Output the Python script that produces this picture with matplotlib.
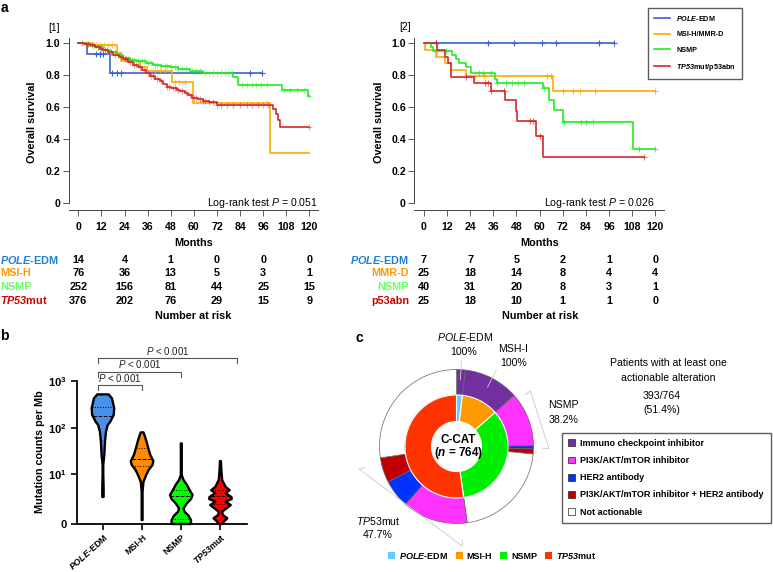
import numpy as np
import matplotlib
matplotlib.use('Agg')
import matplotlib.pyplot as plt
from matplotlib.lines import Line2D
from matplotlib.patches import Patch
from matplotlib.transforms import blended_transform_factory

plt.rcParams['font.family'] = ['Liberation Sans', 'DejaVu Sans']
plt.rcParams['mathtext.fontset'] = 'custom'
plt.rcParams['mathtext.rm'] = 'Liberation Sans'
plt.rcParams['mathtext.it'] = 'Liberation Sans:italic'
plt.rcParams['mathtext.bf'] = 'Liberation Sans:bold'
plt.rcParams['mathtext.bfit'] = 'Liberation Sans:bold:italic'

# ---------------- data: panel a (Kaplan-Meier) ----------------
month_ticks = [0, 12, 24, 36, 48, 60, 72, 84, 96, 108, 120]
risk_months = [0, 24, 48, 72, 96, 120]
surv_ticks = [0, 0.2, 0.4, 0.6, 0.8, 1.0]
surv_labels = ['0', '0.2', '0.4', '0.6', '0.8', '1.0']

# cohort [1]
c1_pole_t = [0, 4.7, 16.5]
c1_pole_s = [1.0, 0.93, 0.815]
c1_pole_end = 95.2
c1_pole_cens = [9.4, 11.1, 12.9, 17.7, 20.3, 22, 89, 95.2]

c1_msi_t = [0, 7.8, 19.9, 22, 32, 35.5, 48.5, 59.7, 99.6]
c1_msi_s = [1.0, 0.987, 0.94, 0.887, 0.85, 0.825, 0.756, 0.627, 0.314]
c1_msi_end = 120
c1_msi_cens = [9, 11, 13.5, 15.5, 17.5, 40, 42.5, 45, 50, 52.5, 55.5, 98]

c1_nsmp_t = [0, 3, 6, 9.6, 13, 16.5, 20, 23.4, 27, 30.3, 35, 39, 43, 47.6, 52, 58, 64.9, 80.5, 83, 105.7, 119.5]
c1_nsmp_s = [1.0, 0.995, 0.985, 0.977, 0.96, 0.945, 0.925, 0.908, 0.895, 0.887, 0.875, 0.866, 0.858, 0.85,
             0.84, 0.825, 0.815, 0.787, 0.742, 0.71, 0.668]
c1_nsmp_end = 120
c1_nsmp_cens = [5, 8, 10, 12, 14, 15, 17, 19, 21, 22, 24, 26, 28, 29, 31, 33, 34, 36, 38, 40, 41, 43, 45, 46,
                48, 50, 52, 54, 56, 59, 61, 63, 66, 68, 70, 72, 74, 76, 78, 80, 85, 87.5, 90, 92.5, 95, 98,
                107, 110, 113.5, 117, 120]

c1_tp53_t = [0, 3, 6.1, 8.7, 11, 13, 15.5, 18.2, 21, 23.4, 26, 28.6, 31, 32.9, 35, 37.2, 40, 42.4, 44, 45.9,
             48, 51.1, 53, 55.4, 57, 58.9, 62, 64.9, 68, 71.9, 101, 102.5, 103.5, 104.8]
c1_tp53_s = [1.0, 0.997, 0.99, 0.977, 0.965, 0.956, 0.943, 0.929, 0.915, 0.904, 0.885, 0.866, 0.85, 0.835,
             0.815, 0.794, 0.778, 0.762, 0.745, 0.725, 0.718, 0.71, 0.70, 0.69, 0.675, 0.658, 0.65, 0.642,
             0.63, 0.617, 0.59, 0.555, 0.52, 0.478]
c1_tp53_end = 120
c1_tp53_cens = [2, 4, 5, 7, 10, 12, 14, 17, 19, 22, 24, 25, 27, 29, 30, 32, 34, 36, 38, 39, 41, 43, 46, 47,
                49, 50, 52, 54, 56, 58, 60, 61, 63, 65, 66, 68, 70, 72, 74, 77, 80.5, 84, 87.5, 90, 93.5,
                96, 98.7, 120]

# cohort [2]
c2_pole_t = [0]
c2_pole_s = [1.0]
c2_pole_end = 98.7
c2_pole_cens = [6.1, 33, 46.8, 61.1, 68.3, 91, 98.7]

c2_mmr_t = [0, 0.7, 6, 10.7, 14.2, 22, 66.8]
c2_mmr_s = [1.0, 0.958, 0.917, 0.875, 0.834, 0.793, 0.704]
c2_mmr_end = 120
c2_mmr_cens = [26.4, 31, 64, 66, 72.3, 77.5, 81, 88.8, 120]

c2_nsmp_t = [0, 3.8, 4.5, 14.8, 16.8, 18.2, 22, 24.3, 36.8, 37.7, 61.6, 65, 67.5, 72, 108.4]
c2_nsmp_s = [1.0, 0.975, 0.95, 0.925, 0.9, 0.875, 0.85, 0.813, 0.776, 0.751, 0.723, 0.643, 0.58, 0.507, 0.337]
c2_nsmp_end = 120
c2_nsmp_cens = [6.8, 11.5, 28.5, 30.5, 34.7, 38, 42.5, 45.6, 48.6, 52, 62.4, 72.8, 81.5, 84, 87.5, 111.6, 120]

c2_p53_t = [0, 6.8, 10.7, 12.5, 14.2, 26, 35, 42, 47.7, 48.5, 58, 61.9]
c2_p53_s = [1.0, 0.958, 0.917, 0.875, 0.792, 0.75, 0.7, 0.643, 0.577, 0.517, 0.422, 0.287]
c2_p53_end = 113.9
c2_p53_cens = [6, 21.7, 31.6, 33, 35, 41.5, 55, 56.4, 60.2, 113.9]

risk1_labels = [r'$\mathbfit{POLE}$-EDM', 'MSI-H', 'NSMP', r'$\mathbfit{TP53}$mut']
risk1 = [[14, 4, 1, 0, 0, 0],
         [76, 36, 13, 5, 3, 1],
         [252, 156, 81, 44, 25, 15],
         [376, 202, 76, 29, 15, 9]]
risk2_labels = [r'$\mathbfit{POLE}$-EDM', 'MMR-D', 'NSMP', 'p53abn']
risk2 = [[7, 7, 5, 2, 1, 0],
         [25, 18, 14, 8, 4, 4],
         [40, 31, 20, 8, 3, 1],
         [25, 18, 10, 1, 1, 0]]
km_legend = [r'$\mathbfit{POLE}$-EDM', 'MSI-H/MMR-D', 'NSMP', r'$\mathbfit{TP53}$mut/p53abn']

# ---------------- data: panel b (violins) ----------------
violin_groups = [r'$\mathbfit{POLE}$-EDM', 'MSI-H', 'NSMP', r'$\mathbfit{TP53}$mut']
pole_levels = [523, 431, 266, 192, 139, 118, 85, 52, 27, 16.3, 9.6, 4.6, 2.7]
pole_dens = [0.50, 0.80, 1.0, 0.95, 0.65, 0.42, 0.27, 0.18, 0.12, 0.03, 0.03, 0.06, 0.06]
pole_quart = [57, 186, 287]
msi_levels = [82.6, 72.4, 52, 37.6, 27, 19.9, 16.3, 12.6, 9.6, 6.7, 3.75, 0.21]
msi_dens = [0.12, 0.21, 0.40, 0.55, 0.73, 1.0, 0.92, 0.58, 0.36, 0.12, 0.04, 0.04]
msi_quart = [15.7, 21.7, 37.6]
nsmp_levels = [48.2, 9.6, 7.4, 5.6, 4.2, 3.06, 2.34, 1.72, 1.13, 0.81, 0.49, 0.21, 0.0]
nsmp_dens = [0.04, 0.04, 0.20, 0.50, 0.73, 1.0, 0.86, 0.50, 0.20, 0.29, 0.65, 0.86, 0.86]
nsmp_quart = [0.27, 2.86, 4.2]
tp53_levels = [19.9, 11.5, 7.4, 5.05, 4.1, 3.47, 2.68, 2.34, 1.94, 1.5, 1.2, 0.81, 0.545, 0.32, 0.12, 0.0]
tp53_dens = [0.04, 0.09, 0.15, 0.45, 0.82, 0.45, 0.97, 1.0, 0.45, 0.91, 0.61, 0.15, 0.21, 0.61, 0.30, 0.18]
tp53_quart = [1.59, 2.92, 4.2]
violin_colors = ['#4a90e8', '#ff8a00', '#00ff00', '#ff0000']
# pairwise comparisons: (group a, group b, label)
comparisons = [(0, 1, r'$\mathit{P}$ < 0.001'), (0, 2, r'$\mathit{P}$ < 0.001'), (0, 3, r'$\mathit{P}$ < 0.001')]
bracket_levels = [820, 1560, 3020]

# ---------------- data: panel c (donut) ----------------
subtype_labels = [r'$\mathbfit{POLE}$-EDM', 'MSI-H', 'NSMP', r'$\mathbfit{TP53}$mut']
subtype_counts = [14, 89, 262, 399]
subtype_colors = ['#66ccff', '#ff9900', '#00ee00', '#ff3300']
therapy_labels = ['Immuno checkpoint inhibitor', 'PI3K/AKT/mTOR inhibitor', 'HER2 antibody',
                  'PI3K/AKT/mTOR inhibitor + HER2 antibody', 'Not actionable']
therapy_colors = ['#7030a0', '#ff33ff', '#0033ff', '#c00000', '#ffffff']
pole_therapy = [14, 0, 0, 0, 0]
msi_therapy = [89, 0, 0, 0, 0]
nsmp_therapy = [0, 87, 5, 8, 162]
tp53_therapy = [0, 105, 45, 40, 209]

W, H = 773, 572
fig = plt.figure(figsize=(W / 100, H / 100), dpi=100)


def px_axes(x0, y0, x1, y1):
    return fig.add_axes([x0 / W, 1 - y1 / H, (x1 - x0) / W, (y1 - y0) / H])


def ftext(x, y, s, **kw):
    return fig.text(x / W, 1 - y / H, s, **kw)


km_colors = ['#3a62d6', '#ffaa00', '#22ee22', '#d42a2a']
risk_colors = ['#1f7fd6', '#ff9900', '#66ff66', '#cc0000']


def draw_km(ax, t, s, end, cens, color, calpha):
    ax.step(list(t) + [end], list(s) + [s[-1]], where='post', color=color, lw=1.2)
    c = np.array(cens)
    idx = np.searchsorted(np.array(t), c, side='right') - 1
    ax.plot(c, np.array(s)[idx], ls='none', marker='+', ms=5, mew=0.8, color=color, alpha=calpha)


def setup_km(ax):
    ax.set_xlim(-5, 124.5)
    ax.set_ylim(-0.042, 1.035)
    for sp in ['top', 'right']:
        ax.spines[sp].set_visible(False)
    for sp in ['left', 'bottom']:
        ax.spines[sp].set_color('#444444')
        ax.spines[sp].set_linewidth(0.7)
    ax.spines['left'].set_bounds(0, 1.035)
    ax.set_xticks(month_ticks)
    ax.set_yticks(surv_ticks)
    ax.set_yticklabels(surv_labels)
    ax.tick_params(axis='both', length=4, width=0.6, color='#444444', labelsize=7.6)
    ax.tick_params(axis='x', pad=5)
    ax.tick_params(axis='y', pad=2)
    for lab in ax.get_xticklabels() + ax.get_yticklabels():
        lab.set_fontweight('bold')


def risk_table(ax, labels, rows, label_x, ha):
    tr = blended_transform_factory(ax.transData, fig.transFigure)
    for i, (lab, row) in enumerate(zip(labels, rows)):
        ypx = [260, 273.5, 287, 300.5][i]
        ftext(label_x, ypx, lab, color=risk_colors[i], fontsize=7.8, fontweight='bold', ha=ha, va='center')
        for m, n in zip(risk_months, row):
            ax.text(m, 1 - ypx / H, str(n), transform=tr, fontsize=7.8, fontweight='bold', ha='center', va='center')


# ---- panel a, left
ax1 = px_axes(68.7, 37.7, 318, 210)
setup_km(ax1)
draw_km(ax1, c1_pole_t, c1_pole_s, c1_pole_end, c1_pole_cens, km_colors[0], 1)
draw_km(ax1, c1_msi_t, c1_msi_s, c1_msi_end, c1_msi_cens, km_colors[1], 0.6)
draw_km(ax1, c1_nsmp_t, c1_nsmp_s, c1_nsmp_end, c1_nsmp_cens, km_colors[2], 0.5)
draw_km(ax1, c1_tp53_t, c1_tp53_s, c1_tp53_end, c1_tp53_cens, km_colors[3], 0.45)
ax1.text(124.5, 0.0, r'Log-rank test $\mathit{P}$ = 0.051', fontsize=7.6, ha='right', va='center')
risk_table(ax1, risk1_labels, risk1, 0, 'left')

# ---- panel a, right
ax2 = px_axes(414.3, 37.7, 664, 210)
setup_km(ax2)
draw_km(ax2, c2_pole_t, c2_pole_s, c2_pole_end, c2_pole_cens, km_colors[0], 1)
draw_km(ax2, c2_mmr_t, c2_mmr_s, c2_mmr_end, c2_mmr_cens, km_colors[1], 0.8)
draw_km(ax2, c2_nsmp_t, c2_nsmp_s, c2_nsmp_end, c2_nsmp_cens, km_colors[2], 0.7)
draw_km(ax2, c2_p53_t, c2_p53_s, c2_p53_end, c2_p53_cens, km_colors[3], 0.7)
ax2.text(120, 0.0, r'Log-rank test $\mathit{P}$ = 0.026', fontsize=7.6, ha='right', va='center')
risk_table(ax2, risk2_labels, risk2, 409, 'right')

for xc, lab in [(31.7, 'Overall survival'), (379, 'Overall survival')]:
    ftext(xc, 122, lab, rotation=90, fontsize=7.8, fontweight='bold', ha='center', va='center')
ftext(193.5, 243, 'Months', fontsize=7.8, fontweight='bold', ha='center', va='center')
ftext(540, 243, 'Months', fontsize=7.8, fontweight='bold', ha='center', va='center')
ftext(193.5, 316, 'Number at risk', fontsize=7.8, fontweight='bold', ha='center', va='center')
ftext(540, 316, 'Number at risk', fontsize=7.8, fontweight='bold', ha='center', va='center')
ftext(54, 28, '[1]', fontsize=7.4, ha='center', va='center')
ftext(405, 27, '[2]', fontsize=7.4, ha='center', va='center')

km_handles = [Line2D([], [], color=c, lw=1.2) for c in km_colors]
fig.legend(km_handles, km_legend, loc='upper left', bbox_to_anchor=(648 / W, 1 - 8 / H),
           prop={'size': 5.2, 'weight': 'bold'}, frameon=True, fancybox=False, edgecolor='#333333',
           handlelength=2.3, labelspacing=1.15, borderpad=0.8, handletextpad=0.8, borderaxespad=0)

# ---- panel b
def fwd(v):
    return np.log10(np.maximum(v, 0) + 1)


def inv(u):
    return 10 ** np.asarray(u) - 1


axb = px_axes(76.7, 381, 246.7, 524)
axb.set_yscale('function', functions=(fwd, inv))
axb.set_xlim(-0.67, 3.67)
axb.set_ylim(0, 1000)
half_w = 0.288
violins = [(pole_levels, pole_dens, pole_quart), (msi_levels, msi_dens, msi_quart),
           (nsmp_levels, nsmp_dens, nsmp_quart), (tp53_levels, tp53_dens, tp53_quart)]
for pos, ((lv, dn, qt), col) in enumerate(zip(violins, violin_colors)):
    lv = np.array(lv, dtype=float)
    d = np.array(dn) * half_w
    xs = np.concatenate([pos - d, (pos + d)[::-1]])
    ys = np.concatenate([lv, lv[::-1]])
    axb.fill(xs, ys, facecolor=col, edgecolor='black', lw=1.7, joinstyle='round', zorder=3, clip_on=False)
    u = fwd(lv)
    for k, q in enumerate(qt):
        w = np.interp(fwd(q), u[::-1], d[::-1])
        axb.plot([pos - w, pos + w], [q, q], color='black', lw=0.7, ls='--' if k == 1 else ':', zorder=4)

for (a, b, lab), lvl in zip(comparisons, bracket_levels):
    x0, x1 = a - 0.13, b + (0.0 if b < 3 else 0.42)
    drop = inv(fwd(lvl) - 0.1)
    axb.plot([x0, x0, x1, x1], [drop, lvl, lvl, drop], color='#555555', lw=0.8, clip_on=False)
    axb.text((x0 + x1) / 2, inv(fwd(lvl) + 0.03), lab, fontsize=7, ha='center', va='bottom', color='#222222')

axb.spines['top'].set_visible(False)
axb.spines['right'].set_visible(False)
for sp in ['left', 'bottom']:
    axb.spines[sp].set_linewidth(1.3)
axb.set_yticks([0, 10, 100, 1000])
axb.set_yticklabels(['0', r'$\mathbf{10^1}$', r'$\mathbf{10^2}$', r'$\mathbf{10^3}$'])
axb.yaxis.set_minor_locator(matplotlib.ticker.NullLocator())
axb.set_xticks(range(4))
axb.set_xticklabels(violin_groups, rotation=42, ha='right', rotation_mode='anchor')
axb.tick_params(axis='both', length=4, width=1.2)
axb.tick_params(axis='x', labelsize=6.4, pad=2)
axb.tick_params(axis='y', labelsize=8)
for lab in axb.get_xticklabels() + axb.get_yticklabels():
    lab.set_fontweight('bold')
ftext(40, 452, 'Mutation counts per Mb', rotation=90, fontsize=7.8, fontweight='bold', ha='center', va='center')

# ---- panel c
R = 77.0
cx, cy = 456.5, 446.5
axc = px_axes(cx - 80, cy - 80, cx + 80, cy + 80)
outer_vals, outer_cols = [], []
for split in [pole_therapy, msi_therapy, nsmp_therapy, tp53_therapy]:
    for n, col in zip(split, therapy_colors):
        if n > 0:
            outer_vals.append(n)
            outer_cols.append(col)
axc.pie(outer_vals, radius=1.0, colors=outer_cols, startangle=90, counterclock=False,
        wedgeprops=dict(width=0.331, edgecolor='#666666', linewidth=0.5))
axc.pie(subtype_counts, radius=0.669, colors=subtype_colors, startangle=90, counterclock=False,
        wedgeprops=dict(width=0.344, edgecolor='white', linewidth=0.8))
axc.set_xlim(-80 / R, 80 / R)
axc.set_ylim(-80 / R, 80 / R)
axc.set_aspect('equal')
axc.axis('off')

total = sum(subtype_counts)
cum = np.concatenate([[0], np.cumsum(subtype_counts)])


def polar(theta_cw, r):
    a = np.deg2rad(90 - theta_cw)
    return r * np.cos(a), r * np.sin(a)


# leader lines for the fully actionable groups
for g in [0, 1]:
    mid = (cum[g] + cum[g + 1]) / 2 / total * 360
    p0, p1 = polar(mid, 0.87), polar(mid, 1.12)
    axc.plot([p0[0], p1[0]], [p0[1], p1[1]], color='#cccccc', lw=0.6, clip_on=False)

# brackets over the actionable part of NSMP and TP53mut
for g, split, rb in [(2, nsmp_therapy, 1.2), (3, tp53_therapy, 1.3)]:
    act = sum(split[:4])
    a0 = cum[g] / total * 360 + 4.5
    a1 = (cum[g] + act) / total * 360 - 4.5
    q0, q1 = polar(a0, rb), polar(a1, rb)
    t0, t1 = polar(a0, rb - 0.08), polar(a1, rb - 0.08)
    axc.plot([t0[0], q0[0], q1[0], t1[0]], [t0[1], q0[1], q1[1], t1[1]], color='#c8c8c8', lw=0.6,
             clip_on=False)

axc.text(0.02, 0.08, 'C-CAT', fontsize=8.4, fontweight='bold', ha='center', va='center')
axc.text(0.02, -0.09, r'($\mathbfit{n}$ = 764)', fontsize=8.4, fontweight='bold', ha='center', va='center')
axc.text(0.11, 1.42, r'$\mathit{POLE}$-EDM', fontsize=7.6, ha='center', va='center')
axc.text(0.09, 1.23, '100%', fontsize=7.6, ha='center', va='center')
axc.text(0.74, 1.27, 'MSH-I', fontsize=7.6, ha='center', va='center')
axc.text(0.74, 1.08, '100%', fontsize=7.6, ha='center', va='center')
axc.text(1.19, 0.54, 'NSMP', fontsize=7.6, ha='left', va='center')
axc.text(1.19, 0.34, '38.2%', fontsize=7.6, ha='left', va='center')
axc.text(-1.01, -0.97, r'$\mathit{TP53}$mut', fontsize=7.6, ha='center', va='center')
axc.text(-1.02, -1.15, '47.7%', fontsize=7.6, ha='center', va='center')

ftext(668, 363, 'Patients with at least one', fontsize=7.6, ha='center', va='center')
ftext(668, 378, 'actionable alteration', fontsize=7.6, ha='center', va='center')
ftext(662, 396, '393/764', fontsize=7.6, ha='center', va='center')
ftext(662, 410, '(51.4%)', fontsize=7.6, ha='center', va='center')

th_handles = [Patch(facecolor=c, edgecolor='#222222', lw=0.5) for c in therapy_colors]
fig.legend(th_handles, therapy_labels, loc='upper left',
           bbox_to_anchor=(561.7 / W, 1 - 432.7 / H, (771 - 561.7) / W, 0), mode='expand',
           prop={'size': 6.5, 'weight': 'bold'}, frameon=True, fancybox=False, edgecolor='#333333',
           handlelength=0.8, handleheight=0.8, labelspacing=0.9, borderpad=0.7, handletextpad=0.5,
           borderaxespad=0)

st_handles = [Patch(facecolor=c, edgecolor='none') for c in subtype_colors]
fig.legend(st_handles, subtype_labels, loc='center', bbox_to_anchor=(492 / W, 1 - 556 / H), ncol=4,
           prop={'size': 6.5, 'weight': 'bold'}, frameon=False, handlelength=0.8, handleheight=0.8,
           handletextpad=0.4, columnspacing=0.9, borderaxespad=0)

# panel letters
ftext(4, 8, 'a', fontsize=10, fontweight='bold', ha='center', va='center')
ftext(4, 336, 'b', fontsize=10, fontweight='bold', ha='center', va='center')
ftext(359, 338, 'c', fontsize=10, fontweight='bold', ha='center', va='center')

fig.savefig('out.png', dpi=100)
